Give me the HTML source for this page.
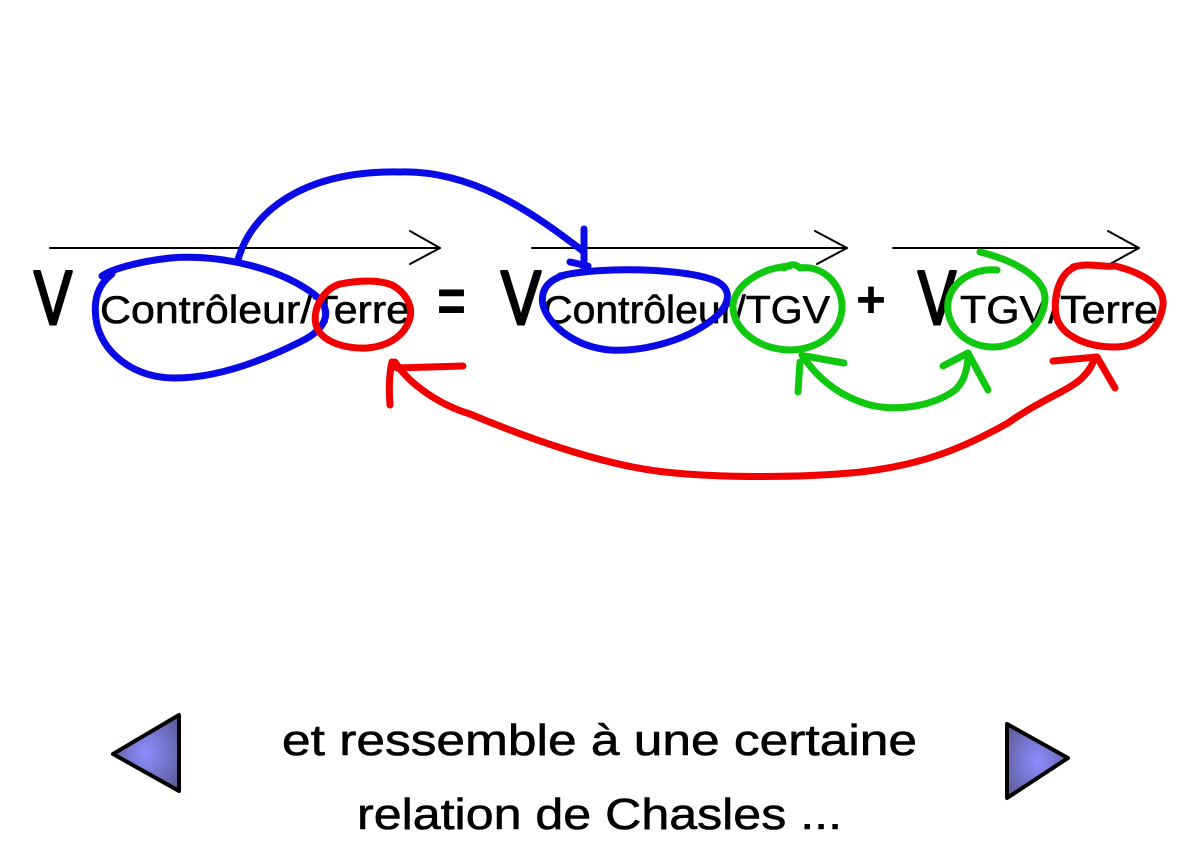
<!DOCTYPE html>
<html>
<head>
<meta charset="utf-8">
<style>
  html, body { margin: 0; padding: 0; background: #ffffff; }
  body { width: 1200px; height: 847px; overflow: hidden; }
  svg { display: block; }
  text { font-family: "Liberation Sans", "DejaVu Sans", sans-serif; fill: #000; }
</style>
</head>
<body>
<svg width="1200" height="847" viewBox="0 0 1200 847" xmlns="http://www.w3.org/2000/svg">
  <defs>
    <radialGradient id="tri" cx="50%" cy="50%" r="60%">
      <stop offset="0%" stop-color="#8d8dff"/>
      <stop offset="100%" stop-color="#5f5f9e"/>
    </radialGradient>
  </defs>

  <!-- vector arrows -->
  <g stroke="#000" stroke-width="2" fill="none" stroke-linecap="round" stroke-linejoin="round">
    <line x1="50" y1="248" x2="440" y2="248"/>
    <polyline points="410,231 440,248 410,264"/>
    <line x1="532" y1="248" x2="847" y2="248"/>
    <polyline points="815,231 847,248 817,264"/>
    <line x1="893" y1="248" x2="1139" y2="248"/>
    <polyline points="1108,231 1139,248 1110,264"/>
  </g>

  <!-- equation text -->
  <g stroke="#000" stroke-width="3" stroke-linejoin="round">
    <text x="34" y="324" font-size="76" textLength="38" lengthAdjust="spacingAndGlyphs">V</text>
    <text x="501" y="324" font-size="76" textLength="40" lengthAdjust="spacingAndGlyphs">V</text>
    <text x="918" y="324" font-size="76" textLength="38" lengthAdjust="spacingAndGlyphs">V</text>
  </g>
  <g stroke="#000" stroke-width="0.6">
    <text x="100" y="323" font-size="39" textLength="310" lengthAdjust="spacingAndGlyphs">Contrôleur/Terre</text>
    <text x="543" y="323" font-size="39" textLength="287" lengthAdjust="spacingAndGlyphs">Contrôleur/TGV</text>
    <text x="960" y="323" font-size="39" textLength="198" lengthAdjust="spacingAndGlyphs">TGV/Terre</text>
  </g>
  <text x="437" y="322" font-size="62" font-weight="bold" textLength="29" lengthAdjust="spacingAndGlyphs">=</text>
  <text x="856" y="317" font-size="52" font-weight="bold" textLength="30" lengthAdjust="spacingAndGlyphs">+</text>

  <!-- hand-drawn strokes -->
  <g fill="none" stroke-width="7" stroke-linecap="round" stroke-linejoin="round">
    <!-- blue -->
    <g stroke="#0a0ae6">
      <path d="M 102 276 C 110 270, 135 262, 170 258 C 220 254, 280 268, 315 295 C 335 312, 325 330, 300 342 C 260 362, 215 378, 175 378 C 135 378, 105 355, 97 325 C 92 300, 98 285, 112 274"/>
      <path d="M 238 260 C 250 215, 300 170, 400 172 C 470 170, 530 210, 584 252"/>
      <path d="M 584 229 L 584 268"/>
      <path d="M 570 262 L 588 266"/>
      <path d="M 560 276 C 600 266, 690 268, 718 282 C 735 292, 728 310, 705 325 C 680 342, 640 352, 610 350 C 575 347, 548 325, 543 305 C 540 290, 548 280, 565 275"/>
    </g>
    <!-- green -->
    <g stroke="#10c810">
      <path d="M 790 266 C 760 268, 735 285, 733 305 C 732 330, 760 350, 790 350 C 820 350, 843 330, 842 305 C 841 283, 822 265, 800 268 C 795 263, 790 264, 784 268"/>
      <path d="M 997 270 C 975 268, 952 280, 948 302 C 945 325, 965 347, 993 347 C 1020 347, 1043 325, 1045 300 C 1046 280, 1020 262, 980 252"/>
      <path d="M 802 355 C 815 375, 835 395, 870 405 C 900 412, 935 405, 955 390 C 966 380, 968 365, 968 353"/>
      <path d="M 800 362 L 798 392"/>
      <path d="M 805 356 L 844 363"/>
      <path d="M 943 366 L 968 353 L 988 390"/>
    </g>
    <!-- red -->
    <g stroke="#f20000">
      <path d="M 340 284 C 360 280, 380 280, 392 285 C 405 292, 413 305, 410 318 C 405 335, 390 346, 367 348 C 345 349, 325 342, 318 330 C 310 315, 320 290, 340 284 Z"/>
      <path d="M 1073 267 C 1090 262, 1105 268, 1115 266 C 1140 272, 1165 285, 1163 305 C 1160 330, 1140 347, 1115 347 C 1085 347, 1060 335, 1056 315 C 1053 295, 1060 273, 1075 267"/>
      <path d="M 395 362 C 410 385, 440 405, 470 414 C 520 435, 600 465, 665 472 C 720 478, 800 478, 861 472 C 920 465, 960 450, 1008 423 C 1040 400, 1070 390, 1082 378 C 1090 370, 1094 362, 1094 358"/>
      <path d="M 392 362 C 389 375, 389 392, 390 405"/>
      <path d="M 397 368 L 463 366"/>
      <path d="M 1053 361 L 1097 357 L 1115 388"/>
    </g>
  </g>

  <!-- navigation triangles -->
  <polygon points="113,754 179,715 179,791" fill="url(#tri)" stroke="#000" stroke-width="4" stroke-linejoin="round"/>
  <polygon points="1007,724 1068,758 1007,798" fill="url(#tri)" stroke="#000" stroke-width="4" stroke-linejoin="round"/>

  <!-- caption -->
  <g stroke="#000" stroke-width="0.6">
    <text x="282" y="755" font-size="44" textLength="635" lengthAdjust="spacingAndGlyphs">et ressemble à une certaine</text>
    <text x="357" y="829" font-size="44" textLength="485" lengthAdjust="spacingAndGlyphs">relation de Chasles ...</text>
  </g>
</svg>
</body>
</html>
